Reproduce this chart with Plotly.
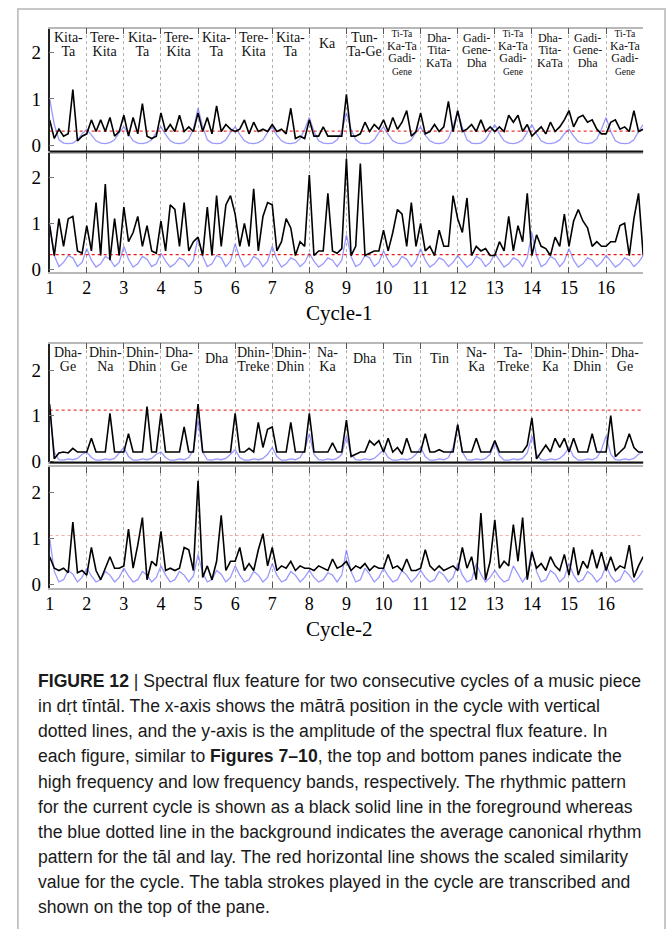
import plotly.graph_objects as go

W, H = 667, 929

# ---------------- data ----------------
matra_ticks = list(range(1, 17))
tick_text = [str(i) for i in matra_ticks]
y_ticks = [0, 1, 2]
SAMPLES_PER_MATRA = 8
x_pos = [1 + i / SAMPLES_PER_MATRA for i in range(16 * SAMPLES_PER_MATRA + 1)]

c1_high_black = [
    0.55, 0.15, 0.35, 0.20, 0.25, 1.20, 0.10, 0.20,
    0.25, 0.55, 0.30, 0.55, 0.30, 0.60, 0.20, 0.30,
    0.65, 0.20, 0.60, 0.25, 0.90, 0.20, 0.15, 0.20,
    0.70, 0.30, 0.45, 0.30, 0.65, 0.30, 0.40, 0.30,
    0.70, 0.30, 0.60, 0.25, 0.85, 0.30, 0.45, 0.35,
    0.30, 0.35, 0.55, 0.25, 0.50, 0.30, 0.35, 0.30,
    0.45, 0.30, 0.35, 0.25, 0.80, 0.15, 0.20, 0.15,
    0.55, 0.20, 0.20, 0.40, 0.20, 0.20, 0.20, 0.20,
    1.10, 0.20, 0.20, 0.25, 0.50, 0.30, 0.45, 0.35,
    0.55, 0.30, 0.60, 0.35, 0.50, 0.75, 0.20, 0.30,
    0.70, 0.25, 0.30, 0.45, 0.30, 0.40, 0.95, 0.30,
    0.75, 0.30, 0.35, 0.45, 0.30, 0.55, 0.30, 0.40,
    0.30, 0.40, 0.30, 0.65, 0.50, 0.65, 0.30, 0.45,
    0.20, 0.30, 0.40, 0.25, 0.50, 0.30, 0.40, 0.55,
    0.75, 0.40, 0.60, 0.65, 0.50, 0.55, 0.35, 0.25,
    0.25, 0.50, 0.55, 0.35, 0.40, 0.30, 0.75, 0.30,
    0.35,
]
c1_high_blue = [
    1.00, 0.45, 0.12, 0.05, 0.04, 0.05, 0.12, 0.25,
    0.35, 0.22, 0.10, 0.05, 0.04, 0.06, 0.12, 0.28,
    0.40, 0.25, 0.10, 0.05, 0.04, 0.06, 0.12, 0.28,
    0.40, 0.24, 0.10, 0.05, 0.04, 0.06, 0.14, 0.35,
    0.80, 0.40, 0.12, 0.05, 0.04, 0.05, 0.12, 0.28,
    0.40, 0.24, 0.10, 0.05, 0.04, 0.06, 0.12, 0.28,
    0.40, 0.22, 0.10, 0.05, 0.04, 0.06, 0.14, 0.35,
    0.60, 0.30, 0.10, 0.05, 0.04, 0.05, 0.12, 0.30,
    0.70, 0.35, 0.12, 0.05, 0.04, 0.05, 0.12, 0.28,
    0.40, 0.24, 0.10, 0.05, 0.04, 0.06, 0.12, 0.28,
    0.40, 0.22, 0.10, 0.05, 0.04, 0.06, 0.15, 0.40,
    0.75, 0.38, 0.12, 0.05, 0.04, 0.05, 0.12, 0.28,
    0.45, 0.25, 0.10, 0.05, 0.04, 0.06, 0.12, 0.28,
    0.45, 0.25, 0.10, 0.05, 0.04, 0.06, 0.12, 0.25,
    0.35, 0.20, 0.08, 0.05, 0.04, 0.06, 0.14, 0.35,
    0.60, 0.30, 0.10, 0.05, 0.04, 0.05, 0.12, 0.30,
    0.45,
]
c1_low_black = [
    0.95, 0.30, 1.10, 0.50, 1.10, 1.15, 0.40, 0.35,
    0.95, 0.40, 1.45, 0.30, 1.85, 0.20, 1.10, 0.30,
    1.35, 0.60, 0.80, 1.15, 0.50, 0.95, 0.40, 0.35,
    1.05, 0.40, 1.40, 1.30, 0.50, 1.45, 0.40, 0.60,
    0.70, 0.30, 1.35, 0.30, 1.60, 0.50, 1.40, 1.60,
    1.20, 0.50, 1.00, 0.50, 1.75, 0.40, 1.15, 1.45,
    1.40, 0.40, 0.60, 1.10, 0.90, 0.30, 0.60, 0.50,
    2.05, 0.30, 0.40, 0.40, 1.65, 0.40, 0.35, 0.45,
    2.40, 0.30, 0.50, 2.30, 0.30, 0.35, 0.40, 0.40,
    0.85, 0.40, 0.80, 1.30, 1.20, 0.50, 1.45, 0.50,
    1.00, 0.40, 0.50, 0.30, 0.85, 0.50, 0.50, 1.60,
    1.10, 0.80, 1.55, 0.30, 0.50, 0.40, 0.45, 0.30,
    0.30, 0.60, 0.40, 1.15, 0.40, 0.95, 0.60, 1.65,
    0.30, 0.75, 0.50, 0.45, 0.30, 0.70, 0.50, 1.20,
    0.50, 1.05, 1.30, 1.05, 0.90, 0.50, 0.60, 0.50,
    0.50, 0.60, 0.60, 0.95, 1.00, 0.30, 1.10, 1.65,
    0.30,
]
c1_low_blue = [
    1.00, 0.30, 0.06, 0.15, 0.30, 0.25, 0.06, 0.15,
    0.45, 0.20, 0.05, 0.12, 0.28, 0.22, 0.06, 0.15,
    0.50, 0.22, 0.05, 0.12, 0.28, 0.22, 0.06, 0.12,
    0.35, 0.18, 0.05, 0.12, 0.25, 0.20, 0.06, 0.20,
    0.70, 0.28, 0.06, 0.12, 0.30, 0.25, 0.06, 0.18,
    0.55, 0.25, 0.05, 0.12, 0.28, 0.22, 0.06, 0.18,
    0.50, 0.22, 0.05, 0.12, 0.25, 0.20, 0.06, 0.15,
    0.35, 0.18, 0.05, 0.12, 0.25, 0.20, 0.06, 0.20,
    0.75, 0.28, 0.06, 0.12, 0.30, 0.25, 0.06, 0.15,
    0.40, 0.20, 0.05, 0.12, 0.28, 0.22, 0.06, 0.18,
    0.45, 0.20, 0.05, 0.12, 0.25, 0.20, 0.06, 0.15,
    0.30, 0.18, 0.05, 0.12, 0.28, 0.22, 0.06, 0.15,
    0.35, 0.20, 0.05, 0.12, 0.25, 0.20, 0.06, 0.25,
    0.80, 0.30, 0.06, 0.12, 0.28, 0.22, 0.06, 0.18,
    0.45, 0.20, 0.05, 0.12, 0.25, 0.20, 0.06, 0.15,
    0.30, 0.18, 0.05, 0.12, 0.25, 0.20, 0.06, 0.15,
    0.30,
]
c2_high_black = [
    1.25, 0.05, 0.18, 0.20, 0.18, 0.28, 0.20, 0.20,
    0.20, 0.50, 0.20, 0.20, 0.20, 1.05, 0.20, 0.20,
    0.20, 0.60, 0.20, 0.20, 0.20, 1.20, 0.20, 0.20,
    1.05, 0.20, 0.20, 0.20, 0.20, 0.75, 0.20, 0.20,
    1.25, 0.20, 0.20, 0.20, 0.20, 0.20, 0.20, 0.20,
    1.05, 0.20, 0.20, 0.28, 0.20, 0.85, 0.30, 0.70,
    0.75, 0.20, 0.20, 0.20, 0.85, 0.20, 0.20, 0.20,
    1.05, 0.20, 0.20, 0.20, 0.20, 0.40, 0.20, 0.20,
    0.90, 0.10, 0.15, 0.20, 0.20, 0.45, 0.35, 0.45,
    0.20, 0.50, 0.20, 0.30, 0.15, 0.50, 0.20, 0.20,
    0.20, 0.60, 0.20, 0.20, 0.25, 0.20, 0.20, 0.20,
    0.80, 0.20, 0.20, 0.20, 0.50, 0.20, 0.20, 0.20,
    0.45, 0.20, 0.20, 0.20, 0.20, 0.20, 0.20, 0.35,
    0.95, 0.05, 0.20, 0.35, 0.20, 0.50, 0.30, 0.50,
    0.20, 0.50, 0.20, 0.20, 0.20, 0.60, 0.20, 0.20,
    0.20, 1.00, 0.10, 0.20, 0.30, 0.60, 0.30, 0.20,
    0.20,
]
c2_high_blue = [
    1.10, 0.20, 0.03, 0.02, 0.05, 0.03, 0.06, 0.15,
    0.20, 0.08, 0.02, 0.02, 0.05, 0.03, 0.06, 0.18,
    0.30, 0.10, 0.02, 0.02, 0.05, 0.03, 0.06, 0.15,
    0.20, 0.08, 0.02, 0.02, 0.05, 0.03, 0.08, 0.25,
    0.90, 0.20, 0.03, 0.02, 0.05, 0.03, 0.06, 0.15,
    0.25, 0.08, 0.02, 0.02, 0.05, 0.03, 0.06, 0.15,
    0.30, 0.10, 0.02, 0.02, 0.05, 0.03, 0.08, 0.25,
    0.60, 0.15, 0.03, 0.02, 0.05, 0.03, 0.06, 0.15,
    0.55, 0.15, 0.03, 0.02, 0.05, 0.03, 0.06, 0.15,
    0.25, 0.08, 0.02, 0.02, 0.05, 0.03, 0.06, 0.15,
    0.30, 0.10, 0.02, 0.02, 0.05, 0.03, 0.08, 0.30,
    0.80, 0.20, 0.03, 0.02, 0.05, 0.03, 0.06, 0.15,
    0.40, 0.12, 0.02, 0.02, 0.05, 0.03, 0.06, 0.18,
    0.55, 0.15, 0.03, 0.02, 0.05, 0.03, 0.06, 0.15,
    0.30, 0.10, 0.02, 0.02, 0.05, 0.03, 0.08, 0.25,
    0.55, 0.15, 0.03, 0.02, 0.05, 0.03, 0.06, 0.15,
    0.20,
]
c2_low_black = [
    0.60, 0.35, 0.30, 0.35, 0.25, 1.35, 0.25, 0.30,
    0.20, 0.80, 0.30, 0.10, 0.35, 0.60, 0.35, 0.35,
    0.40, 1.20, 0.35, 0.85, 1.45, 0.10, 0.50, 0.40,
    1.15, 0.30, 0.35, 0.30, 0.35, 0.80, 0.75, 0.30,
    2.25, 0.15, 0.40, 0.10, 0.50, 1.50, 0.30, 0.50,
    0.50, 0.80, 0.30, 0.45, 0.30, 0.75, 1.10, 0.40,
    0.80, 0.30, 0.40, 0.35, 0.50, 0.30, 0.40, 0.35,
    0.35, 0.30, 0.40, 0.35, 0.30, 0.55, 0.35, 0.40,
    0.50, 0.30, 0.40, 0.35, 0.45, 0.30, 0.40, 0.35,
    0.35, 0.65, 0.35, 0.40, 0.30, 0.55, 0.30, 0.30,
    0.35, 0.75, 0.40, 0.30, 0.40, 0.30, 0.35, 0.40,
    0.30, 0.80, 0.35, 0.60, 0.10, 1.55, 0.10, 0.50,
    1.40, 0.35, 0.50, 0.40, 1.30, 0.50, 1.45, 0.10,
    0.70, 0.35, 0.45, 0.30, 0.60, 0.40, 0.30, 0.65,
    0.20, 0.80, 0.20, 0.50, 0.35, 0.75, 0.35, 0.70,
    0.30, 0.60, 0.30, 0.40, 0.35, 0.85, 0.15, 0.40,
    0.60,
]
c2_low_blue = [
    1.00, 0.28, 0.05, 0.10, 0.30, 0.22, 0.05, 0.15,
    0.35, 0.18, 0.05, 0.10, 0.28, 0.20, 0.05, 0.15,
    0.35, 0.18, 0.05, 0.10, 0.28, 0.20, 0.05, 0.15,
    0.40, 0.20, 0.05, 0.10, 0.28, 0.20, 0.05, 0.18,
    0.65, 0.25, 0.05, 0.10, 0.30, 0.22, 0.05, 0.15,
    0.40, 0.20, 0.05, 0.10, 0.28, 0.20, 0.05, 0.15,
    0.45, 0.20, 0.05, 0.10, 0.28, 0.20, 0.05, 0.15,
    0.30, 0.15, 0.05, 0.10, 0.25, 0.20, 0.05, 0.20,
    0.75, 0.28, 0.05, 0.10, 0.35, 0.22, 0.05, 0.15,
    0.35, 0.18, 0.05, 0.10, 0.30, 0.20, 0.05, 0.15,
    0.30, 0.15, 0.05, 0.10, 0.28, 0.20, 0.05, 0.15,
    0.45, 0.20, 0.05, 0.10, 0.45, 0.22, 0.05, 0.15,
    0.30, 0.15, 0.05, 0.10, 0.40, 0.22, 0.05, 0.20,
    0.75, 0.28, 0.05, 0.10, 0.30, 0.22, 0.05, 0.15,
    0.45, 0.20, 0.05, 0.10, 0.28, 0.20, 0.05, 0.15,
    0.40, 0.18, 0.05, 0.10, 0.30, 0.20, 0.05, 0.15,
    0.30,
]
c1_high_red = 0.31
c1_low_red = 0.32
c2_high_red = 1.12
c2_low_red = 1.06

c1_strokes = [
    ["Kita-", "Ta"], ["Tere-", "Kita"], ["Kita-", "Ta"], ["Tere-", "Kita"],
    ["Kita-", "Ta"], ["Tere-", "Kita"], ["Kita-", "Ta"], ["Ka"],
    ["Tun-", "Ta-Ge"], ["Ti-Ta", "Ka-Ta", "Gadi-", "Gene"],
    ["Dha-", "Tita-", "KaTa"], ["Gadi-", "Gene-", "Dha"],
    ["Ti-Ta", "Ka-Ta", "Gadi-", "Gene"], ["Dha-", "Tita-", "KaTa"],
    ["Gadi-", "Gene-", "Dha"], ["Ti-Ta", "Ka-Ta", "Gadi-", "Gene"],
]
c2_strokes = [
    ["Dha-", "Ge"], ["Dhin-", "Na"], ["Dhin-", "Dhin"], ["Dha-", "Ge"],
    ["Dha"], ["Dhin-", "Treke"], ["Dhin-", "Dhin"], ["Na-", "Ka"],
    ["Dha"], ["Tin"], ["Tin"], ["Na-", "Ka"],
    ["Ta-", "Treke"], ["Dhin-", "Ka"], ["Dhin-", "Dhin"], ["Dha-", "Ge"],
]
cycle_titles = ["Cycle-1", "Cycle-2"]
caption_lines = [
    "<b>FIGURE 12</b> | Spectral flux feature for two consecutive cycles of a music piece",
    "in dṛt tīntāl. The x-axis shows the mātrā position in the cycle with vertical",
    "dotted lines, and the y-axis is the amplitude of the spectral flux feature. In",
    "each figure, similar to <b>Figures 7–10</b>, the top and bottom panes indicate the",
    "high frequency and low frequency bands, respectively. The rhythmic pattern",
    "for the current cycle is shown as a black solid line in the foreground whereas",
    "the blue dotted line in the background indicates the average canonical rhythm",
    "pattern for the tāl and lay. The red horizontal line shows the scaled similarity",
    "value for the cycle. The tabla strokes played in the cycle are transcribed and",
    "shown on the top of the pane.",
]

# ---------------- layout helpers ----------------
def PX(p):
    return p / W


def PY(p):
    return 1 - p / H


SERIF = "Liberation Serif"
SANS = "Liberation Sans"
X_LEFT, X_RIGHT = 45, 643

panes = [
    dict(top=29, bottom=153, yr=[-0.13, 2.51], black=c1_high_black, blue=c1_high_blue,
         red=c1_high_red, redc="rgba(235,30,30,0.9)", top_pane=True, xlab=False),
    dict(top=155, bottom=275, yr=[-0.065, 2.516], black=c1_low_black, blue=c1_low_blue,
         red=c1_low_red, redc="rgba(235,20,20,1)", top_pane=False, xlab=True),
    dict(top=347, bottom=467, yr=[-0.03, 2.58], black=c2_high_black, blue=c2_high_blue,
         red=c2_high_red, redc="rgba(240,40,40,0.9)", top_pane=True, xlab=False),
    dict(top=472, bottom=594, yr=[-0.086, 2.54], black=c2_low_black, blue=c2_low_blue,
         red=c2_low_red, redc="rgba(250,150,150,0.8)", top_pane=False, xlab=True),
]

fig = go.Figure()
layout = {}
shapes = []
annotations = []

for i, p in enumerate(panes):
    n = "" if i == 0 else str(i + 1)
    xa, ya = "x" + n, "y" + n
    fig.add_trace(go.Scatter(x=x_pos, y=p["blue"], xaxis=xa, yaxis=ya, mode="lines",
                             line=dict(color="rgba(110,110,255,0.7)", width=1.3),
                             showlegend=False, hoverinfo="skip"))
    fig.add_trace(go.Scatter(x=[x_pos[0], x_pos[-1]], y=[p["red"], p["red"]], xaxis=xa, yaxis=ya,
                             mode="lines", line=dict(color=p["redc"], width=1.2, dash="dot"),
                             showlegend=False, hoverinfo="skip"))
    fig.add_trace(go.Scatter(x=x_pos, y=p["black"], xaxis=xa, yaxis=ya, mode="lines",
                             line=dict(color="black", width=1.6),
                             showlegend=False, hoverinfo="skip"))
    layout["xaxis" + n] = dict(
        domain=[PX(X_LEFT), PX(X_RIGHT)], range=[1, 17], anchor=ya,
        tickmode="array", tickvals=matra_ticks, ticktext=tick_text,
        showticklabels=p["xlab"], tickfont=dict(family=SERIF, size=18, color="black"),
        ticks="inside", ticklen=6, tickcolor="#555", tickwidth=1,
        showline=True, linecolor="#b8b8b8", linewidth=1.5, mirror="ticks",
        showgrid=True, gridcolor="#b0b0b0", gridwidth=1, griddash="dot",
        zeroline=False, ticklabelstandoff=-2,
    )
    layout["yaxis" + n] = dict(
        domain=[PY(p["bottom"]), PY(p["top"])], range=p["yr"], anchor=xa,
        tickmode="array", tickvals=y_ticks, ticktext=[str(v) for v in y_ticks],
        tickfont=dict(family=SERIF, size=19, color="black"),
        ticks="inside", ticklen=5, tickcolor="#777",
        showline=True, linecolor="#222", linewidth=1.5,
        showgrid=False, zeroline=False, ticklabelstandoff=3,
    )
    layout["yaxis" + str(i + 5)] = dict(
        overlaying=ya, side="right", anchor=xa, range=p["yr"],
        tickmode="array", tickvals=y_ticks[1:], showticklabels=False,
        ticks="inside", ticklen=5, tickcolor="#999",
        showline=False, showgrid=False, zeroline=False,
    )
    if p["top_pane"]:
        shapes.append(dict(type="line", xref=xa + " domain", yref=ya + " domain",
                           x0=0, x1=1, y0=0, y1=0, line=dict(color="#111", width=2.2)))


def add_strokes(strokes, top_px, xa):
    for k, lines in enumerate(strokes):
        nl = len(lines)
        if nl == 1:
            base, sizes, center = 14, [14], top_px + 15
        elif nl == 2:
            base, sizes, center = 10.8, [14, 14], top_px + 16
        elif nl == 3:
            base, sizes, center = 9.6, [12, 12, 12], top_px + 21.5
        else:
            base, sizes, center = 9.8, [9.5, 12, 12, 9.5], top_px + 25
        txt = "<br>".join('<span style="font-size:%gpx">%s</span>' % (s, t)
                          for t, s in zip(lines, sizes))
        annotations.append(dict(text=txt, x=matra_ticks[k] + 0.5, xref=xa, y=PY(center),
                                yref="paper", showarrow=False, xanchor="center",
                                yanchor="middle", borderpad=0,
                                font=dict(family=SERIF, size=base, color="#111")))


add_strokes(c1_strokes, 29, "x")
add_strokes(c2_strokes, 347, "x3")

for title, yy in zip(cycle_titles, [316, 635]):
    annotations.append(dict(text=title, x=PX(337), y=PY(yy), xref="paper", yref="paper",
                            showarrow=False, xanchor="center", yanchor="middle",
                            font=dict(family=SERIF, size=21, color="black")))

for j, line in enumerate(caption_lines):
    annotations.append(dict(text=line, x=PX(31), y=PY(688 + 25.3 * j), xref="paper", yref="paper",
                            showarrow=False, xanchor="left", yanchor="middle",
                            font=dict(family=SANS, size=17.6, color="#1a1a1a")))

shapes.append(dict(type="rect", xref="paper", yref="paper", x0=PX(13), x1=PX(665),
                   y0=PY(940), y1=PY(9), line=dict(color="#b5b5b5", width=1.5), layer="below"))

fig.update_layout(
    width=W, height=H, margin=dict(l=0, r=0, t=0, b=0),
    paper_bgcolor="white", plot_bgcolor="white",
    shapes=shapes, annotations=annotations, showlegend=False,
    **layout,
)

fig.write_html("out.html")
